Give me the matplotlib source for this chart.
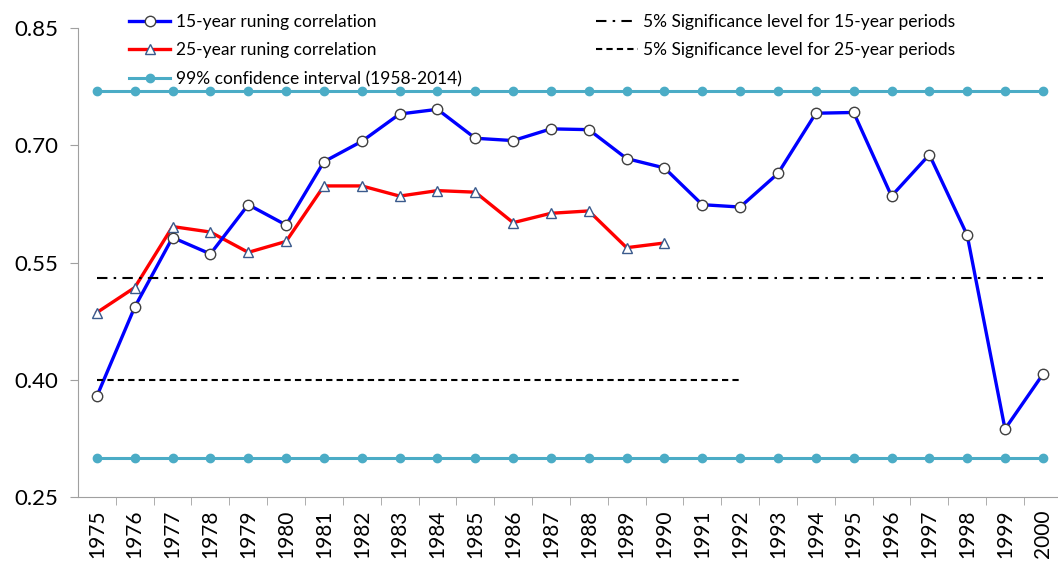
import matplotlib.pyplot as plt
import numpy as np

plt.rcParams['font.family'] = ['Lato', 'DejaVu Sans']

years = list(range(1975, 2001))
corr15 = [0.379, 0.493, 0.582, 0.561, 0.624, 0.598, 0.679, 0.705, 0.740, 0.746,
          0.709, 0.706, 0.721, 0.720, 0.683, 0.671, 0.624, 0.621, 0.664, 0.741,
          0.742, 0.635, 0.688, 0.585, 0.337, 0.407]
corr25 = [0.486, 0.518, 0.596, 0.589, 0.563, 0.577, 0.648, 0.648, 0.635, 0.642,
          0.640, 0.601, 0.613, 0.616, 0.569, 0.575]
ci_upper = 0.77
ci_lower = 0.30
sig15 = 0.53
sig25 = 0.40
sig25_end = 1992

x = np.arange(len(years))
x25 = np.arange(len(corr25))

fig = plt.figure(figsize=(10.58, 5.63), dpi=100)
ax = fig.add_axes([0.0737, 0.1172, 0.9263, 0.833])

teal = '#4BACC6'
h1, = ax.plot(x, corr15, '-o', color='#0000FF', lw=2.4, ms=7.5,
              mfc='white', mec='#404040', mew=1.0, zorder=4,
              label='15-year runing correlation')
h2, = ax.plot(x25, corr25, '-^', color='#FF0000', lw=2.4, ms=7.5,
              mfc='white', mec='#3A5A8C', mew=1.0, zorder=3,
              label='25-year runing correlation')
h3, = ax.plot(x, [ci_upper] * len(x), '-o', color=teal, lw=2.2, ms=6,
              zorder=2, label='99% confidence interval (1958-2014)')
ax.plot(x, [ci_lower] * len(x), '-o', color=teal, lw=2.2, ms=6, zorder=2)

h4, = ax.plot(x, [sig15] * len(x), color='black', lw=1.5,
              dashes=(5, 3, 1.2, 3), zorder=5,
              label='5% Significance level for 15-year periods')
n25 = years.index(sig25_end) + 1
h5, = ax.plot(x[:n25], [sig25] * n25, color='black', lw=1.5,
              dashes=(3, 2), zorder=5,
              label='5% Significance level for 25-year periods')

ax.set_xlim(-0.5, 25.4)
ax.set_ylim(0.25, 0.85)
yt = [0.25, 0.40, 0.55, 0.70, 0.85]
ax.set_yticks(yt)
ax.set_yticklabels(['%.2f' % v for v in yt], fontsize=16)
ax.set_xticks(x)
ax.set_xticklabels([str(y) for y in years], rotation=90, fontsize=15)
ax.set_xticks(np.arange(0.5, len(years) - 0.5, 1), minor=True)
ax.tick_params(axis='x', which='major', length=0, pad=9)
ax.tick_params(axis='x', which='minor', length=6, color='#A0A0A0')
ax.tick_params(axis='y', length=6, color='#A0A0A0', pad=8)

for s in ['top', 'right']:
    ax.spines[s].set_visible(False)
for s in ['left', 'bottom']:
    ax.spines[s].set_color('#A0A0A0')

leg1 = fig.legend(handles=[h1, h2, h3], loc='upper left',
                  bbox_to_anchor=(0.107, 1.003), frameon=False, fontsize=12.5,
                  handlelength=2.4, handletextpad=0.3, labelspacing=0.72)
leg2 = fig.legend(handles=[h4, h5], loc='upper left',
                  bbox_to_anchor=(0.549, 1.003), frameon=False, fontsize=12.5,
                  handlelength=2.4, handletextpad=0.3, labelspacing=0.7)

fig.savefig('out.png', dpi=100)
